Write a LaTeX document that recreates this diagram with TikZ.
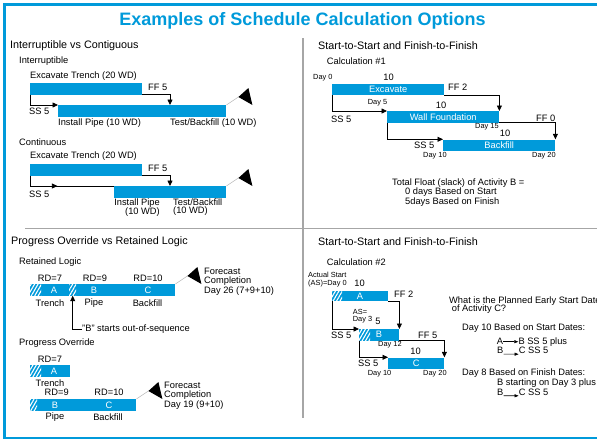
\documentclass[tikz,border=0pt]{standalone}
\usepackage{fontspec}
\setmainfont{Liberation Sans}
\usetikzlibrary{positioning,arrows.meta,patterns.meta,decorations.markings}
\definecolor{schedblue}{RGB}{0,154,218}

\begin{document}
\begin{tikzpicture}[x=1pt, y=-1pt, every node/.style={inner sep=0pt},
	txt/.style={anchor=west, font=\fontsize{9.3}{9.6}\selectfont},
	daytxt/.style={anchor=west, font=\fontsize{7.4}{7.6}\selectfont},
	heading/.style={anchor=west, font=\fontsize{10.8}{12}\selectfont},
	num/.style={font=\fontsize{9.3}{10}\selectfont},
	ltr/.style={text=white, font=\fontsize{9.3}{10}\selectfont},
	bar/.style={anchor=north west, fill=schedblue, minimum height=11.3pt, text=white, font=\fontsize{9.3}{10}\selectfont},
	hatch/.style={bar, postaction={pattern={Lines[angle=60,distance=3pt,line width=1.1pt]}, pattern color=white}},
	dep/.style={line width=0.8pt, -{Triangle[length=5.5pt,width=5pt]}},
	qdep/.style={line width=0.6pt, -{Triangle[length=4pt,width=3pt]}},
	midlink/.style={line width=0.8pt, postaction={decorate}, decoration={markings, mark=at position 0.4 with {\arrow{Triangle[length=5.5pt,width=5pt]}}}},
	flag/.pic={\draw[gray!60, line width=0.5pt] (0,0) -- (12,-8);
		\fill (12,-8) -- (22,-17) -- (26,0) -- cycle;},
	]
\useasboundingbox (0,0) rectangle (597,440);
\clip (0,0) rectangle (597,440);

% frame and dividers
\draw[schedblue, line width=2.5pt] (600,4.5) -- (4.3,4.5) -- (4.3,438) -- (600,438);
\draw[gray!70, line width=1.3pt] (303,38) -- (303,418);
\draw[gray!70, line width=1.3pt] (25,228.5) -- (600,228.5);
\node[font=\fontsize{18}{20}\selectfont\bfseries, text=schedblue] (title) at (302.5,21) {Examples of Schedule Calculation Options};

% interruptible vs contiguous
\node[heading] (h1) at (10,45.7) {Interruptible vs Contiguous};
\node[txt] (s1) at (19,61) {Interruptible};
\node[txt] (e1lbl) at (30,75.7) {Excavate Trench (20 WD)};
\node[bar, minimum width=112pt] (exc1) at (30,83) {};
\node[txt] (ff1) at (148,87) {FF 5};
\node[bar, minimum width=112pt] (pipe1) at (58,105) {};
\node[bar, minimum width=56pt] (back1) at (170,105) {};
\node[txt] (ss1) at (29,111.7) {SS 5};
\node[txt] (p1lbl) at (58,123) {Install Pipe (10 WD)};
\node[txt] (b1lbl) at (170,123) {Test/Backfill (10 WD)};
\draw[dep] (exc1.south west) |- (pipe1.north west);
\draw[dep] (exc1.south east) -| (back1.north west);
\pic at (back1.north east) {flag};

\node[txt] (s2) at (19,142) {Continuous};
\node[txt] (e2lbl) at (30,156) {Excavate Trench (20 WD)};
\node[bar, minimum width=112pt] (exc2) at (30,164) {};
\node[txt] (ff2) at (148,168) {FF 5};
\node[bar, minimum width=56pt] (pipe2) at (114,186) {};
\node[bar, minimum width=56pt] (back2) at (170,186) {};
\node[txt] (ss2) at (29,194) {SS 5};
\node[txt, anchor=east, align=right, font=\fontsize{9.3}{8}\selectfont] (p2lbl) at (160,207.5) {Install Pipe\\(10 WD)};
\node[txt, align=left, font=\fontsize{9.3}{8}\selectfont] (b2lbl) at (173,207.5) {Test/Backfill\\(10 WD)};
\draw[midlink] (exc2.south west) |- (pipe2.north west);
\draw[dep] (exc2.south east) -| (back2.north west);
\pic at (back2.north east) {flag};

% calculation #1
\node[heading] (h2) at (318,45.7) {Start-to-Start and Finish-to-Finish};
\node[txt] (s3) at (326.7,61) {Calculation \#1};
\node[daytxt] (d0) at (313,77.7) {Day 0};
\node[num] (n10a) at (388.5,77) {10};
\node[bar, minimum width=112pt] (exc3) at (332,83.3) {Excavate};
\node[txt] (ff3) at (448,87) {FF 2};
\node[daytxt] (d5) at (367.7,102.7) {Day 5};
\node[num] (n10b) at (441,105.7) {10};
\node[bar, minimum width=112pt] (wall3) at (387,111) {Wall Foundation};
\node[txt] (ss3) at (331,119) {SS 5};
\node[txt] (ff3b) at (536,118) {FF 0};
\node[daytxt] (d15) at (475,126.7) {Day 15};
\node[num] (n10c) at (505,133) {10};
\node[bar, minimum width=112pt] (bkf3) at (443,139.3) {Backfill};
\node[txt] (ss3b) at (414,145) {SS 5};
\node[daytxt] (d10) at (423,156) {Day 10};
\node[daytxt] (d20) at (532,156) {Day 20};
\draw[dep] (exc3.south west) |- (wall3.north west);
\draw[dep] (exc3.south east) -| (wall3.north east);
\draw[dep] (wall3.south west) |- (bkf3.north west);
\draw[dep] (wall3.south east) -| (bkf3.north east);
\node[txt] (tf1) at (392,182.7) {Total Float (slack) of Activity B =};
\node[txt] (tf2) at (405,192) {0 days Based on Start};
\node[txt] (tf3) at (405,201.7) {5days Based on Finish};

% progress override vs retained logic
\node[heading] (h3) at (11,241.7) {Progress Override vs Retained Logic};
\node[txt] (s4) at (19,262) {Retained Logic};
\node[num] (rd7) at (50,278.3) {RD=7};
\node[num] (rd9) at (95,278.3) {RD=9};
\node[num] (rd10) at (148,278.3) {RD=10};
\node[bar, minimum width=145pt] (rbar) at (30,284) {};
\node[hatch, minimum width=11pt] (rhA) at (30,284) {};
\node[hatch, minimum width=7pt] (rhB) at (69,284) {};
\node[ltr] (rA) at (54,289.8) {A};
\node[ltr] (rB) at (94,289.8) {B};
\node[ltr] (rC) at (148,289.8) {C};
\node[num] (rtr) at (50,302.7) {Trench};
\node[num] (rpi) at (94,302.7) {Pipe};
\node[num] (rbk) at (147.5,302.7) {Backfill};
\node[txt] (oos) at (82,329) {"B" starts out-of-sequence};
\draw[dep] (oos.west) -| (rhB.south);
\pic at (rbar.north east) {flag};
\node[txt, align=left] (fc1) at (204,281.7) {Forecast\\Completion\\Day 26 (7+9+10)};

\node[txt] (s5) at (19,343) {Progress Override};
\node[num] (ord7) at (50,359) {RD=7};
\node[bar, minimum width=40pt] (obA) at (30,365) {};
\node[hatch, minimum width=11pt] (ohA) at (30,365) {};
\node[ltr] (oA) at (54,370.8) {A};
\node[num] (otr) at (50,383.3) {Trench};
\node[num] (ord9) at (56.7,392.7) {RD=9};
\node[num] (ord10) at (109,392.7) {RD=10};
\node[bar, minimum width=106pt] (obBC) at (30,399) {};
\node[hatch, minimum width=7pt] (ohB) at (30,399) {};
\node[ltr] (oB) at (55,404.8) {B};
\node[ltr] (oC) at (109,404.8) {C};
\node[num] (opi) at (55,417.3) {Pipe};
\node[num] (obk) at (108,417.3) {Backfill};
\pic at (obBC.north east) {flag};
\node[txt, align=left] (fc2) at (164,395.7) {Forecast\\Completion\\Day 19 (9+10)};

% calculation #2
\node[heading] (h4) at (318,241.7) {Start-to-Start and Finish-to-Finish};
\node[txt] (s6) at (326.7,262.3) {Calculation \#2};
\node[daytxt, align=left] (as0) at (308,279.5) {Actual Start\\(AS)=Day 0};
\node[num] (c10a) at (359.5,283) {10};
\node[bar, minimum width=55.7pt, minimum height=10pt] (cA) at (332,291) {};
\node[hatch, minimum width=10pt, minimum height=10pt] (chA) at (332,291) {};
\node[ltr] (cAl) at (360,296) {A};
\node[txt] (ff4) at (394,294.3) {FF 2};
\node[daytxt, align=left] (as3) at (352.7,316) {AS=\\Day 3};
\node[num] (c5) at (378,321) {5};
\node[bar, minimum width=40pt] (cB) at (359,329) {};
\node[hatch, minimum width=11pt] (chB) at (359,329) {};
\node[ltr] (cBl) at (379,334.6) {B};
\node[txt] (ss4) at (331,335.7) {SS 5};
\node[txt] (ff4b) at (418,335) {FF 5};
\node[daytxt] (d12) at (378,345) {Day 12};
\node[num] (c10b) at (415.5,351.7) {10};
\node[bar, minimum width=56pt] (cC) at (388,357.3) {C};
\node[txt] (ss4b) at (358,363) {SS 5};
\node[daytxt] (e10) at (367.7,374) {Day 10};
\node[daytxt] (e20) at (423,374) {Day 20};
\draw[dep] (cA.south west) |- (cB.north west);
\draw[dep] (cA.south east) -| (cB.north east);
\draw[dep] (cB.south west) |- (cC.north west);
\draw[dep] (cB.south east) -| (cC.north east);

\node[txt] (q1) at (449,300.7) {What is the Planned Early Start Date};
\node[txt] (q2) at (451.7,309.3) {of Activity C?};
\node[txt] (q3) at (462,328.3) {Day 10 Based on Start Dates:};
\node[txt] (qa1) at (496.7,341.7) {A};
\node[txt, right=15pt of qa1] (qb1) {B SS 5 plus};
\draw[qdep] (qa1) -- (qb1);
\node[txt] (qb2) at (497,350.7) {B};
\node[txt, right=15pt of qb2] (qc2) {C SS 5};
\draw[qdep] (qb2.south east) -- (qc2.south west);
\node[txt] (q4) at (462,372.7) {Day 8 Based on Finish Dates:};
\node[txt] (q5) at (497,383.3) {B starting on Day 3 plus};
\node[txt] (qb3) at (497,392.3) {B};
\node[txt, right=15pt of qb3] (qc3) {C SS 5};
\draw[qdep] (qb3.south east) -- (qc3.south west);
\end{tikzpicture}
\end{document}
